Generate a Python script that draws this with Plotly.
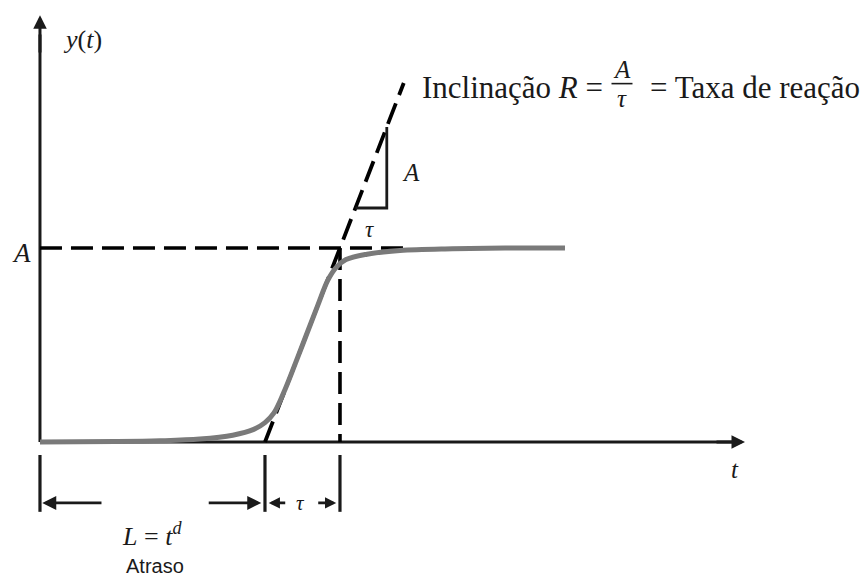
import plotly.graph_objects as go

# Process reaction curve (time in arbitrary units, response normalised to A = 1)
t_curve = [0.0, 1.0, 1.6, 2.13, 2.57, 2.85, 3.0, 3.12, 3.25, 3.4, 3.55, 3.7, 3.84, 3.95, 4.08, 4.36, 4.8, 5.5, 6.2, 7.0]
y_curve = [0.0, 0.002, 0.006, 0.015, 0.035, 0.065, 0.1, 0.15, 0.255, 0.4, 0.55, 0.7, 0.835, 0.9, 0.94, 0.968, 0.987, 0.996, 1.0, 1.0]

A = 1.0          # final value
L_delay = 3.0    # dead time L = t_d
tau = 1.0        # time for the tangent to climb A
t_tangent_end = 4.85
t_ref_end = 4.87
t_axis_end = 9.4
y_axis_end = 2.2
tri_y0, tri_y1 = 1.206, 1.624   # vertical extent of the slope triangle
dim_y = -0.314   # level of the dimension arrows
tick_top, tick_bot = -0.067, -0.36

serif = "Liberation Serif, Times New Roman, serif"
ink = "#1a1a1a"
dash = "22px,9px"

fig = go.Figure()

def seg(xs, ys, width=3.0, color=ink, dash_style=None, shape="linear"):
    fig.add_trace(go.Scatter(x=xs, y=ys, mode="lines", hoverinfo="skip",
                             line=dict(color=color, width=width, dash=dash_style, shape=shape)))

# axes
seg([0, 0], [0, 2.1], width=3)
seg([0, 9.3], [0, 0], width=3)

# reference level A
seg([0, t_ref_end], [A, A], width=3.6, color="black", dash_style=dash)

# tangent at the inflection point: y = A (t - L) / tau
tan_t = [L_delay, t_tangent_end]
seg(tan_t, [A * (tt - L_delay) / tau for tt in tan_t], width=3.8, color="black", dash_style=dash)

# vertical dashed line at t = L + tau
seg([L_delay + tau, L_delay + tau], [A, 0], width=3.6, color="black", dash_style=dash)

# slope triangle: horizontal leg from the tangent, vertical leg back up to it
tri_t1 = L_delay + tau * tri_y1 / A
tri_t0 = L_delay + tau * tri_y0 / A
seg([tri_t0, tri_t1, tri_t1], [tri_y0, tri_y0, tri_y1], width=2.8)

# reaction curve drawn over the tangent
seg(t_curve, y_curve, width=5, color="#7a7a7a", shape="spline")

# tick marks below the time axis
for tx in [0, L_delay, L_delay + tau]:
    seg([tx, tx], [tick_top, tick_bot], width=3.2)

annotations = []

def arrow(x0, y0, x1, y1, width=2.8, head=2, size=1.0):
    annotations.append(dict(x=x1, y=y1, ax=x0, ay=y0, xref="x", yref="y", axref="x", ayref="y",
                            showarrow=True, arrowhead=head, arrowsize=size, arrowwidth=width,
                            arrowcolor=ink, text=""))

# axes arrow heads
arrow(0, 2.0, 0, y_axis_end, width=3, size=0.9)
arrow(9.0, 0, t_axis_end, 0, width=3, size=0.9)

# dimension arrows for L and tau
arrow(0.84, dim_y, 0.03, dim_y)
arrow(2.23, dim_y, 2.95, dim_y)
arrow(3.29, dim_y, 3.05, dim_y, size=0.8)
arrow(3.69, dim_y, 3.95, dim_y, size=0.8)

def label(x, y, text, size=22, family=serif, xanchor="center", yanchor="middle", color=ink):
    annotations.append(dict(x=x, y=y, xref="x", yref="y", text=text, showarrow=False,
                            font=dict(family=family, size=size, color=color),
                            xanchor=xanchor, yanchor=yanchor))

label(0.573, 2.072, "<i>y</i>(<i>t</i>)", size=26)
label(-0.24, 0.974, "<i>A</i>", size=27)
label(9.27, -0.144, "<i>t</i>", size=25)
label(4.95, 1.387, "<i>A</i>", size=25)
label(4.4, 1.093, "<i>τ</i>", size=23)
label(3.47, -0.314, "<i>τ</i>", size=21)
label(1.49, -0.475, "<i>L</i> = <i>t</i><sup><i>d</i></sup>", size=26)
label(1.53, -0.64, "Atraso", size=20, family="Liberation Sans, Arial, sans-serif")

# slope caption with a stacked fraction A / tau
label(5.067, 1.825, "Inclinação <i>R</i> =", size=31, xanchor="left")
label(7.76, 1.922, "<i>A</i>", size=25)
label(7.76, 1.77, "<i>τ</i>", size=25)
seg([7.62, 7.9], [1.847, 1.847], width=1.6)
label(10.96, 1.825, "= Taxa de reação", size=31, xanchor="right")

fig.update_layout(
    width=868, height=581,
    margin=dict(l=0, r=0, t=0, b=0),
    paper_bgcolor="white", plot_bgcolor="white",
    showlegend=False,
    xaxis=dict(range=[-0.533, 11.04], visible=False, fixedrange=True),
    yaxis=dict(range=[-0.7165, 2.278], visible=False, fixedrange=True),
    annotations=annotations,
)

fig.write_html("out.html")
